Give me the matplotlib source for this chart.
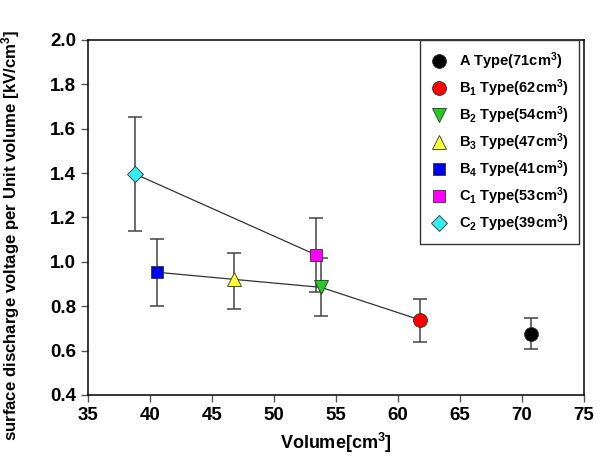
import matplotlib
matplotlib.use("Agg")
import matplotlib.pyplot as plt

plt.rcParams['font.family'] = ['Liberation Sans', 'DejaVu Sans']
plt.rcParams['font.weight'] = 'bold'
plt.rcParams['mathtext.fontset'] = 'custom'
plt.rcParams['mathtext.rm'] = 'Liberation Sans:bold'
plt.rcParams['mathtext.it'] = 'Liberation Sans:bold'
plt.rcParams['mathtext.bf'] = 'Liberation Sans:bold'
plt.rcParams['mathtext.default'] = 'rm'

# series data
labels = ["A Type(71cm$^3$)", "B$_1$ Type(62cm$^3$)", "B$_2$ Type(54cm$^3$)",
          "B$_3$ Type(47cm$^3$)", "B$_4$ Type(41cm$^3$)", "C$_1$ Type(53cm$^3$)",
          "C$_2$ Type(39cm$^3$)"]
volume = [70.7, 61.8, 53.8, 46.8, 40.6, 53.4, 38.8]
voltage = [0.673, 0.738, 0.885, 0.921, 0.953, 1.031, 1.396]
err_up = [0.072, 0.093, 0.131, 0.118, 0.149, 0.167, 0.258]
err_down = [0.066, 0.101, 0.130, 0.132, 0.152, 0.165, 0.258]

markers = ['o', 'o', 'v', '^', 's', 's', 'D']
colors = ['#000000', '#ff0000', '#22cc22', '#ffff33', '#0000ee', '#ff00ff', '#33eeee']
sizes = [10, 10, 10, 10, 9, 9, 8]

# connected groups (indices into the arrays above)
b_line = [4, 3, 2, 1]
c_line = [6, 5]

fig = plt.figure(figsize=(6.04, 4.70), dpi=100, facecolor='w')
ax = fig.add_axes([0.1457, 0.1596, 0.8213, 0.7553])

for grp in (b_line, c_line):
    ax.plot([volume[i] for i in grp], [voltage[i] for i in grp],
            color='#333333', linewidth=0.9, zorder=2)

for i in range(len(labels)):
    ax.errorbar(volume[i], voltage[i], yerr=[[err_down[i]], [err_up[i]]],
                fmt='none', ecolor='#444444', elinewidth=1.1, capsize=5,
                capthick=1.1, zorder=1)
    ax.plot(volume[i], voltage[i], linestyle='none', marker=markers[i],
            markersize=sizes[i], markerfacecolor=colors[i],
            markeredgecolor='#333333', markeredgewidth=0.6,
            label=labels[i], zorder=3)

ax.set_xlim(35, 75)
ax.set_ylim(0.4, 2.0)
ax.set_xticks(range(35, 76, 5))
ax.set_yticks([0.4, 0.6, 0.8, 1.0, 1.2, 1.4, 1.6, 1.8, 2.0])
ax.set_yticklabels(["%.1f" % v for v in ax.get_yticks()])
ax.tick_params(direction='out', length=5, width=1, labelsize=13.5,
               top=False, right=False, color='#555555')
for sp in ax.spines.values():
    sp.set_linewidth(1.1)

ax.set_xlabel("Volume[cm$^3$]", fontsize=13, fontweight='bold', labelpad=5)
ax.set_ylabel("surface discharge voltage per Unit volume [kV/cm$^3$]",
              fontsize=12.1, fontweight='bold')
ax.yaxis.set_label_coords(-0.133, 0.45)

leg = ax.legend(loc='upper right', bbox_to_anchor=(0.99, 1.0),
                fontsize=10.5, frameon=True, fancybox=False, framealpha=1,
                edgecolor='#333333', borderpad=0.7, labelspacing=0.37,
                handlelength=1.2, handletextpad=0.8, borderaxespad=0.0)
leg.get_frame().set_linewidth(1.0)

plt.savefig("out.png", dpi=100)
